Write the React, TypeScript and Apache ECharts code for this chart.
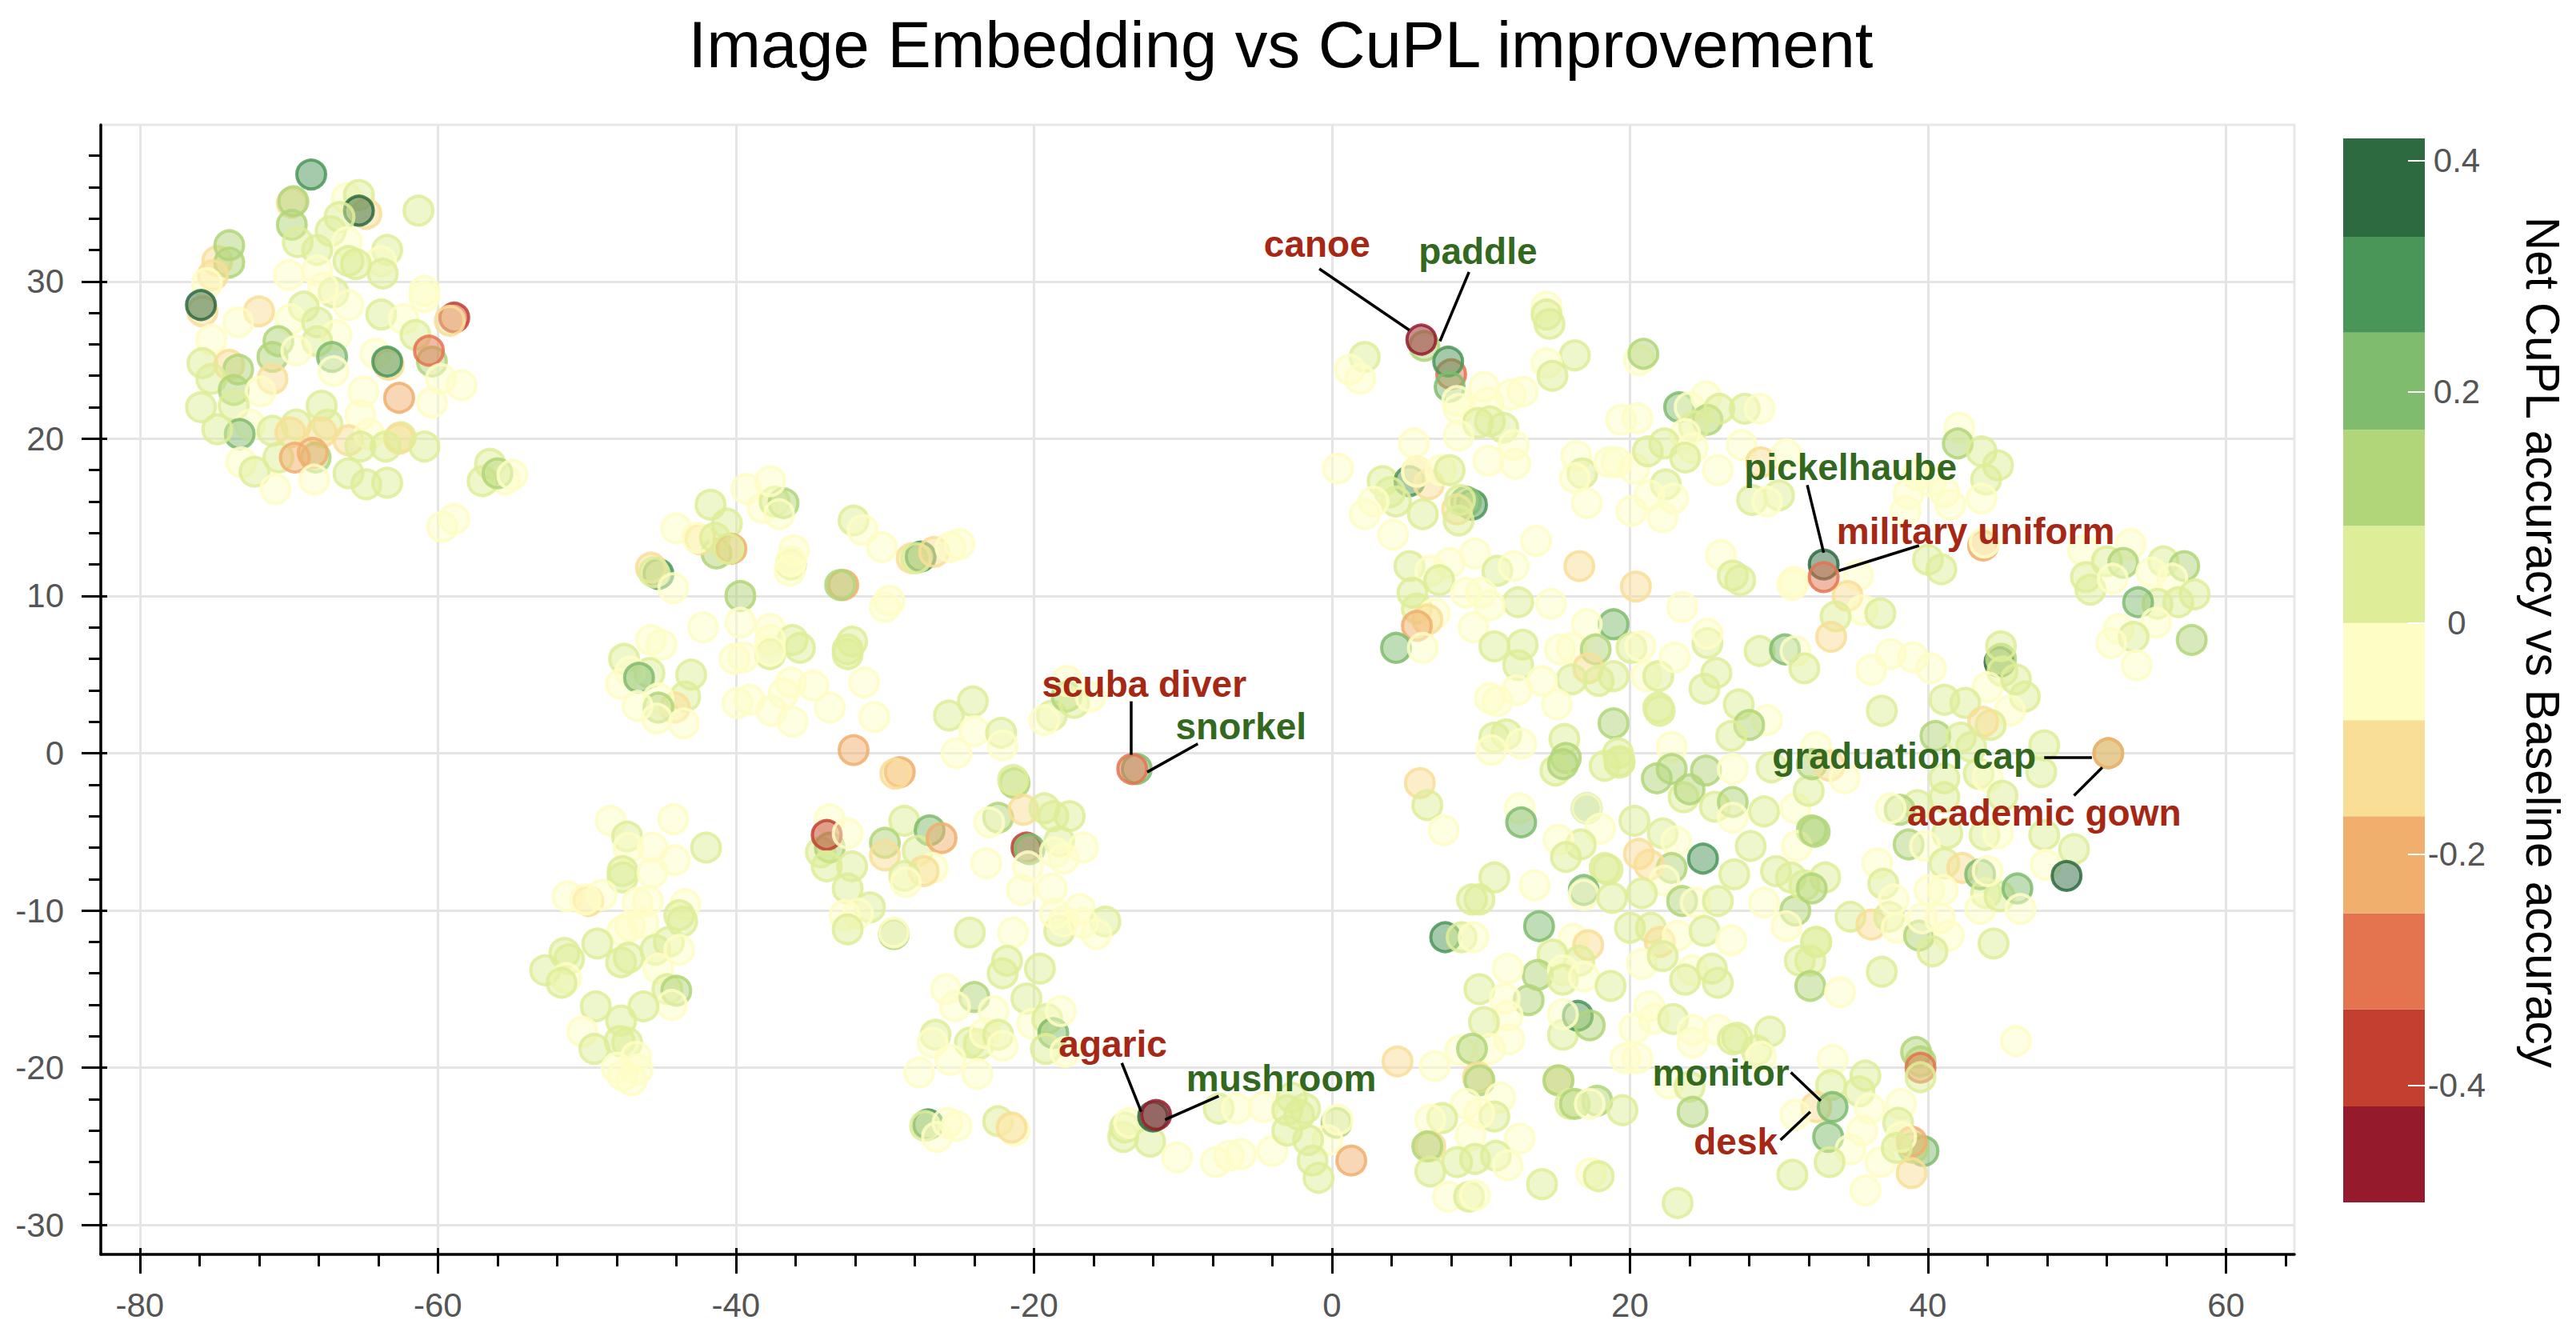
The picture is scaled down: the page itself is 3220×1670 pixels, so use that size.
import { useEffect, useRef } from "react";
import * as echarts from "echarts";

// net accuracy levels, one per colour band of the bar
const K = 0.38, D = 0.29, G = 0.21, M = 0.12, L = 0.04;
const Y = -0.04, A = -0.12, B = -0.2, C = -0.29, R = -0.38, Z = -0.46;

const xMajorTicks = [-80, -60, -40, -20, 0, 20, 40, 60];
const xMinorTicks = [-76, -72, -68, -64, -56, -52, -48, -44, -36, -32, -28, -24, -16, -12, -8, -4, 4, 8, 12, 16, 24, 28, 32, 36, 44, 48, 52, 56, 64];
const yMajorTicks = [-30, -20, -10, 0, 10, 20, 30];
const yMinorTicks = [-28, -26, -24, -22, -18, -16, -14, -12, -8, -6, -4, -2, 2, 4, 6, 8, 12, 14, 16, 18, 22, 24, 26, 28, 32, 34, 36, 38];
const barTicks = [-0.4, -0.2, 0, 0.2, 0.4];
const bandEdges = [-0.501, -0.418, -0.334, -0.251, -0.167, -0.084, 0, 0.084, 0.167, 0.251, 0.334, 0.419];
const bandColors = ["#951b2c", "#c33f30", "#e4744f", "#f1af6d", "#f9de96", "#fefdc5", "#deed98", "#b1d679", "#7fbc6e", "#4a9658", "#2d6a3f"];

const topLeftCluster = [
  [-69.8, 35, A], [-69.7, 35.1, M], [-69.8, 33.6, M], [-66.1, 35.3, Y], [-65.3, 35.5, L], [-64.8, 34.3, A], [-65.3, 34.5, K], [-61.3, 34.5, L],
  [-66.6, 34.1, L], [-67.2, 33.2, L], [-66.1, 32.5, Y], [-69.4, 32.5, L], [-68.1, 32, L], [-74.8, 31.3, A], [-74, 32.3, M], [-74, 31.2, M],
  [-75.1, 30.4, A], [-75.5, 29.9, Y], [-63.4, 32, L], [-66, 31.3, L], [-63.8, 31.3, Y], [-63.7, 30.5, L], [-70, 30.4, Y], [-68.1, 30.7, Y],
  [-65.5, 31.1, L], [-60.9, 29.4, Y], [-60.9, 29, Y], [-67, 29.3, L], [-66, 28.5, Y], [-67.7, 29.6, Y], [-75.8, 28.1, A], [-75.9, 28.5, K],
  [-72, 28.1, A], [-73.4, 27.4, Y], [-69, 28.4, L], [-69.9, 27.6, Y], [-68.1, 27.4, L], [-63.8, 27.9, L], [-62.3, 27.6, Y], [-58.9, 27.7, R],
  [-59.2, 27.5, A], [-66.8, 26.6, Y], [-61.5, 26.6, L], [-70.7, 26.2, M], [-75.2, 26.3, Y], [-60.4, 24.9, M], [-60.6, 25.6, C], [-68.1, 26.2, L],
  [-67.1, 25.2, G], [-64.2, 25.4, Y], [-63.3, 24.7, A], [-63.4, 24.9, D], [-71.1, 25.2, M], [-69.5, 25.6, Y], [-75.8, 24.8, L], [-74, 24.7, A],
  [-73.4, 24.4, M], [-75.2, 23.8, L], [-71.1, 23.8, A], [-73.7, 23.1, M], [-71.9, 23, Y], [-67, 24.3, Y], [-59.8, 23.8, Y], [-58.4, 23.4, Y],
  [-62.6, 22.6, B], [-65, 23, Y], [-67.8, 22.1, L], [-60.4, 22.3, Y], [-75.9, 22, L], [-73.7, 22.1, L], [-65.2, 21.5, Y], [-72.6, 20.9, Y],
  [-73.3, 20.3, G], [-74.8, 20.6, L], [-71.1, 20.5, L], [-69.5, 20.9, L], [-69.9, 20.4, A], [-67.4, 20.9, L], [-67.8, 20.4, A], [-66, 19.9, A],
  [-64.6, 20.3, Y], [-62.5, 20.1, L], [-62.6, 20, A], [-60.9, 19.5, L], [-63.5, 19.5, L], [-65.2, 19.5, L], [-70.7, 18.8, L], [-68.2, 18.8, M],
  [-69.6, 18.8, B], [-68.4, 19.1, B], [-73.2, 18.5, Y], [-72.3, 17.9, L], [-70.9, 16.8, Y], [-68.3, 17.4, Y], [-66, 17.8, L], [-64.8, 17.1, L],
  [-63.4, 17.2, L], [-56.5, 18.4, L], [-55.5, 17.4, Y], [-57, 17.3, L], [-56, 17.8, M], [-55, 17.7, Y], [-59.7, 14.4, Y], [-58.9, 14.9, Y],
];

const middleLeftCluster = [
  [-39.3, 16.8, Y], [-38.2, 15.6, Y], [-37.4, 16, L], [-36.8, 15.9, M], [-37.7, 17.3, Y], [-37.1, 15.2, Y], [-41.7, 15.8, L], [-40.6, 14.6, L],
  [-44, 14.3, Y], [-41.3, 12.7, M], [-42.4, 13.6, A], [-42.6, 13.7, Y], [-41.4, 13.7, L], [-40.3, 13, B], [-40.5, 13, L], [-36.3, 12, L],
  [-36.1, 12.9, Y], [-36.3, 12.2, Y], [-36.4, 11.6, Y], [-45.2, 11.4, D], [-45.7, 11.8, A], [-45.5, 11.5, L], [-44.2, 10.5, Y], [-39.7, 10, M],
  [-32.1, 14.8, L], [-31.5, 14.2, Y], [-30.2, 13.1, Y], [-28.2, 12.4, A], [-27.6, 12.5, D], [-27.9, 12.4, L], [-26.7, 12.8, A], [-25.6, 13.1, Y],
  [-25, 13.3, Y], [-32.8, 10.7, B], [-33, 10.7, M], [-29.7, 9.7, Y], [-30, 9.3, Y], [-42.2, 8, Y], [-39.7, 8.3, Y], [-37.7, 7.9, Y], [-36.2, 7.2, L],
  [-35.7, 6.7, L], [-37.7, 7.2, Y], [-37.7, 6.3, L], [-37.7, 6.5, Y], [-32.2, 7.1, L], [-32.5, 6.6, L], [-32.5, 6.3, L], [-45.7, 7.2, Y], [-45, 6.9, Y],
  [-47.5, 6, L], [-47.7, 4.4, Y], [-45.8, 5.1, L], [-47.1, 5.2, Y], [-46.5, 4.8, G], [-43, 5, L], [-43.4, 3.6, L], [-44.1, 2.9, A], [-45.2, 3.5, Y],
  [-45.2, 2.9, M], [-46.6, 3, Y], [-45.3, 2.2, Y], [-43.5, 1.9, Y], [-40.1, 6, Y], [-39.5, 6.1, Y], [-36.3, 4.5, Y], [-34.8, 4.3, Y], [-31.4, 4.5, Y],
  [-39.9, 3.2, Y], [-39.1, 3.4, Y], [-37.6, 2.7, Y], [-36.2, 2, Y], [-33.7, 2.9, Y], [-30.7, 2.3, Y], [-36.8, 3.8, Y], [-32.1, 0.2, B],
  [-29, -1.2, B], [-29.3, -1.3, A], [-25.7, 2.4, L], [-24.1, 3.3, L], [-24, 1.4, Y], [-22.2, 1.3, L], [-22.1, 0.5, Y], [-25.2, 0, Y],
];

const lowerLeftCluster = [
  [-48.4, -4.3, Y], [-44.2, -4.2, Y], [-47.3, -5.3, L], [-47.2, -6, Y], [-45.6, -6, Y], [-42, -6, L], [-44.1, -6.8, Y], [-47.6, -7.5, L], [-47.6, -7.9, L],
  [-45.6, -7.6, Y], [-51.3, -9.1, Y], [-49.9, -9.4, A], [-50.1, -9.3, Y], [-49, -9, Y], [-46.6, -9.5, Y], [-45.9, -9.4, Y], [-43.4, -9.6, Y],
  [-43.8, -10.3, L], [-43.6, -10.7, L], [-47.1, -11, Y], [-47.6, -11.3, Y], [-46.2, -10.8, Y], [-51.5, -12.7, L], [-51.2, -13.1, L], [-49.3, -12.1, L],
  [-52.8, -13.8, L], [-51.4, -14.3, Y], [-51.7, -14.6, L], [-47.7, -13.3, L], [-47.2, -13, L], [-44.5, -12, L], [-45.4, -12.5, L], [-43.8, -12.5, Y],
  [-45.2, -13.7, Y], [-44.6, -15, L], [-44, -15.1, M], [-44.3, -16, Y], [-49.4, -16.1, L], [-46.2, -16.1, L], [-47.7, -17, L], [-50.3, -17.7, Y],
  [-49.5, -18.8, L], [-47.8, -18.3, L], [-47.3, -18.4, L], [-46.7, -19.3, Y], [-48, -20, Y], [-46.6, -20.1, Y], [-47, -20.8, Y], [-47.6, -20.5, Y],
];

const centerCluster = [
  [-33.7, -4.2, Y], [-34.3, -6.3, L], [-33.7, -6, M], [-33.9, -5.2, R], [-32.5, -5.1, Y], [-33.9, -7.2, L], [-32.2, -7.2, L], [-32.5, -8.6, L], [-31, -9.8, L],
  [-32.7, -10.3, Y], [-31.8, -10.2, Y], [-32.5, -11.2, L], [-29.4, -11.5, M], [-29.4, -11.4, Y], [-28.7, -4.3, L], [-27, -4.9, G], [-30, -5.7, M], [-30, -6.5, A],
  [-27.8, -6.2, L], [-26.2, -5.4, B], [-26.8, -7.3, Y], [-27.4, -7.5, A], [-28.7, -7.8, L], [-28.6, -8.2, Y], [-23.2, -7, Y], [-24.3, -11.4, L],
  [-22.4, -4.1, M], [-23, -4.4, Y], [-18.8, 2.4, L], [-19.3, 2.1, Y], [-17.8, 3.6, M], [-17.3, 3.2, L], [-16.2, 3.6, Y], [-17.8, 4.6, Y],
  [-21.3, -1.9, M], [-21.4, -1.7, L], [-20.7, -3.6, A], [-19.3, -3.5, L], [-17.6, -4, L], [-18.7, -4, L], [-20.5, -6, R], [-20.3, -6.1, G],
  [-18.3, -5.6, L], [-16.7, -6, Y], [-18.6, -6.3, Y], [-18, -6.7, Y], [-20.4, -7.2, Y], [-20.8, -8.7, Y], [-18.8, -8.6, Y], [-18.3, -11.3, L],
  [-18.6, -10.2, Y], [-16.9, -9.9, Y], [-18, -10.7, Y], [-15.2, -10.7, L], [-16.7, -10.8, Y], [-15.8, -11.5, Y], [-21.4, -11.4, Y],
];

const lowerCenterCluster = [
  [-21.8, -13.2, L], [-22.1, -14, L], [-19.6, -13.7, L], [-25.9, -15, Y], [-24, -15.5, M], [-20.5, -15.6, L], [-25.3, -16.1, Y], [-22.7, -16.4, Y],
  [-20.1, -17.2, Y], [-19.1, -16.9, L], [-18.7, -17.8, G], [-18.2, -16.4, Y], [-19.2, -18.8, L], [-17.9, -19, Y], [-26.6, -17.9, L], [-26.8, -18.4, Y],
  [-24.3, -18.4, L], [-23.7, -18.5, L], [-23.3, -17.8, Y], [-22.4, -17.9, L], [-22.1, -18.6, Y], [-25.6, -19.5, Y], [-23.8, -20.4, Y], [-27.7, -20.3, Y],
  [-27.1, -23.6, D], [-27.3, -23.7, L], [-26.5, -24.4, Y], [-25.8, -23.5, Y], [-25.2, -23.7, Y], [-22.4, -23.4, L], [-21.3, -24, Y], [-21.5, -23.8, A],
  [-13.9, -23.8, L], [-14, -24.4, L], [-13.6, -23.5, Y], [-12.2, -24.7, L], [-10.4, -25.7, Y], [-7.8, -26, Y], [-6.9, -25.6, Y], [-6.1, -25.5, Y],
  [-4, -25.3, Y], [-7.6, -22.6, L], [-6.4, -22.6, Y], [-4.6, -22.5, Y], [-2.7, -21.9, L], [-1.8, -22.6, L], [-3, -22.7, L], [-2.2, -23, L], [-3, -24, L],
  [0.3, -23.5, M], [0.4, -23.3, Y], [-0.3, -24.6, Y], [-1.6, -24.6, L], [-1.3, -25.9, L], [-0.9, -27, L], [1.3, -25.9, B], [4.4, -19.6, A],
];

const upperRightCluster = [
  [6.2, 25.9, M], [8, 24.1, C], [7.8, 24.9, D], [7.9, 23.3, G], [2.2, 25.2, L], [1.2, 24.4, Y], [1.9, 23.8, Y], [14.4, 28.4, Y], [14.4, 27.9, L], [14.6, 27.3, L],
  [16.3, 25.3, L], [14.4, 24.8, Y], [14.8, 24, L], [20.6, 25, Y], [20.9, 25.4, M], [10.2, 23.3, Y], [8.4, 22.4, Y], [8.5, 21.9, Y], [10.5, 22.3, Y], [12, 22.8, Y],
  [12.8, 23, Y], [9.8, 21, L], [10.6, 21.1, L], [11.5, 20.7, L], [8.5, 20.2, Y], [5.5, 19.7, Y], [12.2, 19.6, Y], [10.5, 18.6, Y], [12.3, 18.4, Y], [0.4, 18.1, Y],
  [16.4, 18.9, Y], [16.8, 17.8, L], [16.3, 17.5, Y], [18.6, 18.5, Y], [19.1, 18.5, Y], [20.3, 18.1, Y], [19.4, 21.2, Y], [20.5, 21.3, Y], [23.3, 22, G],
  [25.1, 22.7, Y], [24, 22, Y], [25.2, 21.2, M], [26, 21.9, L], [24.3, 20.8, L], [23.7, 20.3, Y], [27.7, 21.9, L], [28.7, 21.9, Y], [27.5, 19.6, Y], [22.3, 19.7, L],
  [21.2, 19.2, L], [24.2, 19.4, Y], [23.7, 18.8, L], [25.9, 18, Y], [28.8, 18.5, A], [30.5, 19, Y], [22.4, 17.1, L], [21.3, 16.4, Y], [22.9, 16.2, Y],
  [20.1, 15.4, Y], [22.2, 15, Y], [17.1, 15.9, Y], [3.4, 17.3, L], [5.2, 17.3, D], [6.5, 17.1, A], [5.7, 17.9, A], [5.7, 17.9, Y], [3.9, 16.6, L], [4.3, 16, L], [6.1, 15.2, L],
  [2.2, 15.2, Y], [2.8, 16, Y], [4.1, 13.9, Y], [7.3, 18, Y], [7.9, 18, L], [9.4, 15.8, D], [9, 16, G], [8.4, 15.5, A], [8.6, 16.1, L], [8.5, 14.8, L], [30, 16.4, L],
  [28.2, 16.1, L], [29.2, 16, Y], [13.7, 13.5, Y], [5.2, 11.9, L], [7.9, 12.1, Y], [9.6, 12.7, Y], [6.6, 11.6, Y], [7.2, 11, L], [5.4, 10.2, L], [11.1, 11.6, L],
  [12.2, 11.9, Y], [16.6, 11.9, A], [20.4, 10.6, A], [9, 10.2, Y], [10, 10.2, Y], [12.5, 9.6, L], [14.7, 9.5, Y], [10.6, 9.4, Y], [9.5, 8, Y], [5.7, 9.2, L],
  [6.9, 8.9, Y], [6.4, 8.5, A], [5.7, 8.1, B], [4.3, 6.7, G], [6.1, 6.7, Y], [18.9, 8.2, G], [17.1, 8.2, Y], [23.5, 9.3, Y], [26.1, 12.6, Y], [26.9, 11.3, L],
  [27.4, 11, L], [30.9, 10.7, Y], [10.9, 6.8, L], [12.8, 6.9, L], [12.5, 5.6, L], [15.3, 6.6, Y], [16.1, 6.7, Y], [17.7, 6.6, M], [20.1, 6.7, L], [20.7, 6.8, Y],
  [17.2, 5.4, A], [18.9, 4.9, L], [17.9, 4.6, L], [16.1, 4.7, L], [14.1, 4.6, Y], [12.4, 4, Y], [10.6, 3.5, Y], [11.1, 3.3, Y], [15.1, 3.1, Y], [21.1, 4.9, Y],
  [21.9, 4.9, L], [23, 6.1, Y], [25.2, 7, L], [25.2, 7.6, Y], [25.8, 5.1, L], [25, 4.1, L], [28.7, 6.5, L], [30.4, 6.6, G], [31.1, 6.5, Y], [31.7, 5.4, L], [21.9, 2.9, L],
  [22, 2.7, L], [18.9, 1.9, M], [27.3, 3.1, L], [29.2, 2.1, Y], [28, 1.8, M], [26.8, 1.1, L], [10.9, 1, L], [11.7, 1.2, L], [12.7, 0.6, Y], [10.7, 0.2, Y],
  [15.6, 0.9, L], [15.7, -0.3, M], [19.2, 0, L], [19.3, -0.5, L], [22.8, 0.4, Y],
];

const lowerRightCluster = [
  [15, -1.1, L], [15.5, -0.7, M], [18.3, -0.8, L], [19.3, -0.6, L], [21.8, -1.6, M], [22.8, -1, M], [25.1, -1.1, M], [26.9, -1, Y], [23.6, -2.8, L], [24, -2.3, M],
  [25.7, -3.4, L], [26.9, -3.1, M], [26.9, -4.1, Y], [29, -3.7, L], [31.1, -3.5, Y], [32, -2.4, L], [32.2, -4.9, M], [28.1, -5.9, L], [31.2, -5.9, Y],
  [5.9, -1.9, A], [6.4, -3.3, L], [7.5, -4.9, Y], [12.6, -3.5, Y], [12.7, -4.4, G], [17.1, -3.5, G], [17.1, -3.5, Y], [20.3, -4.3, L], [22.2, -5.1, L], [23.1, -5.6, Y],
  [24.9, -6.7, D], [18, -4.8, Y], [16.7, -5.8, L], [15.2, -5.5, Y], [15.7, -6.6, L], [18.3, -7.3, L], [18.5, -7.4, L], [22.8, -7.3, M], [20.6, -6.4, A],
  [21.3, -7.1, A], [22.3, -8.1, Y], [23.5, -9.4, M], [24.4, -9.5, Y], [25.9, -9.4, L], [27, -7.7, L], [29.8, -7.5, L], [30.8, -7.9, L], [29, -9.5, Y], [31.1, -10, M],
  [30.5, -11, Y], [10.9, -7.9, L], [13.6, -8.4, Y], [9.9, -9.3, L], [9.4, -9.3, L], [16.9, -8.7, G], [16.9, -9, Y], [18.8, -9.2, L], [20.8, -8.9, L], [13.9, -11, G],
  [16.2, -11.8, Y], [17.2, -12.2, A], [16.6, -13.2, L], [14.8, -12.8, L], [13.8, -14.1, M], [15.5, -13.8, Y], [15.5, -14.4, L], [16.9, -14.2, Y], [18.7, -14.8, L],
  [11.8, -13.7, Y], [9.9, -15, L], [13.2, -15.7, M], [11.6, -15.6, Y], [11.8, -16.7, Y], [11.9, -18.2, Y], [10.2, -17.1, L], [8.6, -18.9, Y], [10.6, -18.8, Y],
  [9.4, -18.8, M], [15.5, -17.9, L], [16.5, -16.7, D], [17.3, -17.3, M], [15.5, -16.6, Y], [7.6, -11.7, D], [8.7, -11.7, L], [9.5, -11.7, Y], [20, -11.1, L],
  [21.4, -11.1, L], [22, -12, A], [23.2, -11.6, Y], [25, -11.3, L], [26.8, -11.9, Y], [20.8, -13.4, Y], [22.2, -12.9, L], [24.2, -13.8, Y], [23.7, -14.4, L],
  [25.5, -13.7, L], [25.9, -14.6, L], [32.5, -12, L], [31.4, -13.2, L], [32.1, -13.2, L], [32.1, -14.8, M], [21.3, -16.1, Y], [21.6, -16.9, Y], [22.9, -16.9, L],
  [20.3, -17.5, Y], [24.2, -17.6, Y], [25.9, -17.6, Y], [24.2, -18.4, Y], [27.2, -18.1, L], [26.9, -18.2, L], [29.4, -17.7, L], [28.5, -18.9, L], [28.8, -19.3, Y],
  [19.7, -19.4, Y], [20.5, -19.4, Y], [6.9, -19.9, Y], [9.8, -20.6, A], [9.9, -20.8, M], [15.2, -20.8, A], [15.2, -20.8, M], [11.3, -21.9, Y], [9, -22.3, Y],
  [16, -22.3, L], [16.3, -22.3, M], [17.8, -22.1, M], [17.3, -22.3, Y], [19.5, -22.7, L], [7.4, -23.2, L], [6.6, -23.3, Y], [10.9, -23.1, L], [9.9, -22.9, Y], [9.3, -24.3, Y],
  [12.6, -24.5, Y], [6.6, -25, A], [6.4, -25, M], [8.4, -26, L], [6.6, -26.6, L], [9.6, -25.8, L], [11, -25.6, L], [11.8, -26.2, Y], [14.1, -27.4, L], [17.4, -26.7, Y],
  [17.9, -26.9, L], [7.8, -28.2, Y], [9.2, -28.2, L], [9.6, -28.1, Y], [23.2, -28.6, L], [30.9, -26.8, L], [22.6, -21, Y], [24, -21.2, L], [24.2, -22.8, M],
];

const farRightCluster = [
  [42.1, 20.7, Y], [42, 19.7, M], [43.6, 19.2, L], [44.7, 18.3, L], [43.9, 17.4, L], [43.6, 16.2, Y], [38.7, 16.5, Y], [40.2, 17.3, Y], [39.3, 17.7, Y], [41.1, 16.6, Y],
  [41.5, 15.8, Y], [38.5, 15.4, Y], [31, 10.9, Y], [35.3, 11.3, Y], [34.6, 10, A], [35.6, 9.1, Y], [33.8, 8.7, L], [36.8, 8.9, L], [33.5, 7.4, A], [40, 12.3, L], [40.9, 11.7, L],
  [43.7, 13.2, B], [43.8, 13.4, Y], [50.4, 12.9, Y], [53.6, 13.3, Y], [52, 12.2, L], [53.1, 12.1, M], [50.6, 11.2, L], [50.9, 10.4, L], [52.4, 11.1, Y], [55.8, 12.2, L],
  [57.2, 11.9, M], [56.4, 11.1, Y], [55, 11.5, Y], [57.9, 10.1, L], [55.4, 9.5, L], [54.1, 9.6, G], [56.8, 9.6, L], [55.3, 8.3, Y], [52.8, 7.9, Y], [53.8, 7.4, L], [52.3, 7, Y],
  [57.7, 7.2, M], [54, 5.6, Y], [44.8, 5.8, K], [44.9, 6, M], [44.9, 6.8, L], [45, 5.2, L], [36.2, 5.3, Y], [37.5, 6.3, Y], [39, 6.1, Y], [40.2, 5.4, Y], [44, 4.2, Y], [45.9, 4.7, L],
  [46.5, 3.6, L], [45.5, 2.7, Y], [36.9, 2.7, L], [41.1, 3.4, L], [42.5, 3.2, L], [44.2, 1.8, L], [43.7, 2, A], [40.5, 1.1, M], [42.2, 1, L], [42.9, 0.4, L], [47.8, 0.5, L],
  [32.5, 0.4, Y], [32.2, -0.7, M], [33.4, -0.8, A], [34.4, -1.6, Y], [29.5, -0.9, L], [43.4, -1.3, L], [41.1, -1.6, L], [47.6, -1.2, L], [44, -1.5, Y], [45, -2.7, L], [41.1, -2.8, L],
  [39.3, -3.3, L], [38.1, -3.6, M], [37.5, -3.5, Y], [47.8, -5.2, L], [49.8, -6.1, L], [47.9, -7.1, Y], [43.8, -5.2, L], [44.7, -5.1, Y], [41.3, -5.1, L], [38.7, -5.8, M],
  [39.8, -5.9, Y], [32.4, -5, M], [33.1, -7.9, L], [31.7, -8.4, L], [32.2, -8.6, M], [34.8, -10.4, L], [36.2, -10.9, A], [37.4, -10.4, L], [37.9, -11.1, Y], [39.4, -11.6, M],
  [39.6, -10.5, Y], [40.8, -10.5, Y], [41.4, -11.6, Y], [40.3, -12.6, L], [44.4, -12.1, L], [32.5, -12, L], [34.1, -15.2, Y], [36.9, -13.9, L], [36.6, -7, Y], [37, -8.3, L], [37.7, -9.3, Y],
  [41.1, -7, L], [42.3, -7.3, A], [40.1, -8.7, Y], [41, -8.7, Y], [43.5, -7.7, G], [43.9, -8.9, L], [43.5, -9.9, Y], [44.8, -9.1, L], [46, -8.6, G], [46.2, -9.9, Y], [44, -7.5, Y],
  [39.2, -19, M], [39.5, -19.6, M], [39.5, -20, C], [39.5, -20.6, L], [33.6, -19.5, Y], [35.8, -20.5, L], [33.5, -21.1, L], [32.5, -22.5, A], [31.1, -23, Y], [33.3, -24.4, G],
  [35.4, -21.5, L], [36.1, -22.6, Y], [38.2, -22.3, Y], [38, -23.5, L], [35.6, -24, Y], [34.8, -25.2, Y], [33.4, -26, L], [36.8, -26, Y], [35.8, -27.8, Y], [39.7, -25.3, G],
  [39, -25.1, M], [38.9, -24.7, B], [38.2, -24.4, Y], [37.9, -25.1, L], [38.9, -26.7, A], [45.9, -18.3, Y],
];

// the named classes and what sits under them, drawn last
const annotatedPoints = [
  [-68.5, 36.8, D], [-13.1, -1, G], [-13.4, -1, C], [6, 26.3, Z], [-12, -23.1, K], [-11.8, -23, Z], [33, 12, K], [33, 11.2, C],
  [52.1, 0, M], [52.1, 0, B], [33.6, -22.5, G], [49.3, -7.8, K],
];

const annotationTexts = ["canoe", "paddle", "scuba diver", "snorkel", "agaric", "mushroom", "pickelhaube", "military uniform", "graduation cap", "academic gown", "monitor", "desk"];
const annotationX = [-1, 9.8, -12.6, -6.1, -14.7, -3.4, 34.8, 43.2, 38.4, 47.8, 26.1, 27.1];
const annotationY = [32.4, 31.9, 4.4, 1.7, -18.5, -20.7, 18.2, 14.1, -0.2, -3.8, -20.3, -24.7];
const annotationLoss = [true, false, true, false, true, false, false, true, false, true, false, true];
const leaderStarts = [[-0.85, 30.8], [9.2, 30.6], [-13.5, 3.3], [-9, 0.6], [-14.1, -19.7], [-7.6, -21.8], [31.9, 17.05], [39.4, 13.2], [47.8, -0.25], [49.8, -2.7], [30.8, -20.3], [30.1, -24.6]];
const leaderEnds = [[5.2, 26.9], [7.25, 26.2], [-13.5, -0.1], [-12.4, -1.2], [-12.8, -22.8], [-11.2, -23.3], [33, 12.75], [34, 11.6], [51, -0.25], [51.7, -0.9], [32.8, -22.1], [32.1, -22.8]];

const FONT = "'Liberation Sans', Arial, sans-serif";

function bandColor(net: number) {
  for (let i = 0; i < bandColors.length; i++) {
    if (net < bandEdges[i + 1]) return bandColors[i];
  }
  return bandColors[bandColors.length - 1];
}

export default function App() {
  const chartRef = useRef<HTMLDivElement>(null);

  useEffect(() => {
    if (!chartRef.current) return;
    const chart = echarts.init(chartRef.current, undefined, { renderer: "svg" });

    const allPoints = [
      ...topLeftCluster, ...middleLeftCluster, ...lowerLeftCluster, ...centerCluster, ...lowerCenterCluster,
      ...upperRightCluster, ...lowerRightCluster, ...farRightCluster, ...annotatedPoints,
    ];

    const xRange = { min: -82.62, max: 64.59 };
    const yRange = { min: -31.87, max: 39.96 };
    const quietLine = { show: false, onZero: false };

    chart.setOption({
      animation: false,
      backgroundColor: "#ffffff",
      title: {
        text: "Image Embedding vs CuPL improvement",
        left: 1596,
        top: 10,
        textAlign: "center",
        textStyle: { fontFamily: FONT, fontSize: 81.4, fontWeight: "normal", color: "#000000" },
      },
      grid: [
        { left: 126, top: 156, width: 2742, height: 1412, show: true, borderColor: "#e8e8e8", borderWidth: 3, backgroundColor: "transparent" },
        { left: 2929, top: 173, width: 102, height: 1330 },
      ],
      xAxis: [
        {
          type: "value", gridIndex: 0, position: "bottom", ...xRange,
          axisLine: { show: true, onZero: false, lineStyle: { color: "#000000", width: 3.5 } },
          axisTick: { show: true, length: 24, customValues: xMajorTicks, lineStyle: { color: "#000000", width: 3 } },
          axisLabel: { show: true, customValues: xMajorTicks, margin: 42, fontFamily: FONT, fontSize: 42, color: "#555555" },
          splitLine: { show: true, lineStyle: { color: "#e5e5e5", width: 3 } },
        },
        {
          type: "value", gridIndex: 0, position: "bottom", ...xRange,
          axisLine: quietLine,
          axisTick: { show: true, inside: true, length: 8, customValues: xMajorTicks, lineStyle: { color: "#000000", width: 3 } },
          axisLabel: { show: false }, splitLine: { show: false },
        },
        {
          type: "value", gridIndex: 0, position: "bottom", ...xRange,
          axisLine: quietLine,
          axisTick: { show: true, length: 15, customValues: xMinorTicks, lineStyle: { color: "#000000", width: 3 } },
          axisLabel: { show: false }, splitLine: { show: false },
        },
        { type: "value", gridIndex: 1, min: 0, max: 1, show: false },
      ],
      yAxis: [
        {
          type: "value", gridIndex: 0, position: "left", ...yRange,
          axisLine: { show: true, onZero: false, lineStyle: { color: "#000000", width: 3.5 } },
          axisTick: { show: true, length: 24, customValues: yMajorTicks, lineStyle: { color: "#000000", width: 3 } },
          axisLabel: { show: true, customValues: yMajorTicks, margin: 46, fontFamily: FONT, fontSize: 42, color: "#555555" },
          splitLine: { show: true, lineStyle: { color: "#e5e5e5", width: 3 } },
        },
        {
          type: "value", gridIndex: 0, position: "left", ...yRange,
          axisLine: quietLine,
          axisTick: { show: true, inside: true, length: 8, customValues: yMajorTicks, lineStyle: { color: "#000000", width: 3 } },
          axisLabel: { show: false }, splitLine: { show: false },
        },
        {
          type: "value", gridIndex: 0, position: "left", ...yRange,
          axisLine: quietLine,
          axisTick: { show: true, length: 15, customValues: yMinorTicks, lineStyle: { color: "#000000", width: 3 } },
          axisLabel: { show: false }, splitLine: { show: false },
        },
        {
          type: "value", gridIndex: 1, position: "right", min: -0.501, max: 0.419,
          axisLine: quietLine,
          axisTick: { show: true, inside: true, length: 21, customValues: barTicks, lineStyle: { color: "#ffffff", width: 2 } },
          axisLabel: { show: true, customValues: barTicks, margin: 40, align: "center", fontFamily: FONT, fontSize: 42, color: "#555555", formatter: (v: number) => `${v}` },
          splitLine: { show: false },
          z: 5,
        },
      ],
      graphic: [
        {
          type: "text", x: 3178, y: 803, rotation: -Math.PI / 2,
          style: { text: "Net CuPL accuracy vs Baseline accuracy", fontFamily: FONT, fontSize: 58.3, fill: "#000000", textAlign: "center", textVerticalAlign: "middle" },
        },
      ],
      series: [
        {
          type: "scatter",
          xAxisIndex: 0,
          yAxisIndex: 0,
          symbolSize: 36,
          silent: true,
          z: 3,
          data: allPoints.map(([x, y, net]) => ({
            value: [x, y],
            itemStyle: {
              opacity: 1,
              color: echarts.color.modifyAlpha(bandColor(net), 0.5),
              borderColor: echarts.color.modifyAlpha(bandColor(net), 0.85),
              borderWidth: 4,
            },
          })),
        },
        {
          type: "lines",
          coordinateSystem: "cartesian2d",
          xAxisIndex: 0,
          yAxisIndex: 0,
          silent: true,
          z: 4,
          lineStyle: { color: "#000000", width: 3.5, opacity: 1, curveness: 0 },
          data: leaderStarts.map((start, i) => ({ coords: [start, leaderEnds[i]] })),
        },
        {
          type: "scatter",
          xAxisIndex: 0,
          yAxisIndex: 0,
          symbolSize: 1,
          silent: true,
          z: 6,
          itemStyle: { color: "transparent", opacity: 1 },
          label: { show: true, position: "inside", formatter: "{b}", fontFamily: FONT, fontSize: 46, fontWeight: "bold" },
          data: annotationTexts.map((name, i) => ({
            name,
            value: [annotationX[i], annotationY[i]],
            label: { color: annotationLoss[i] ? "#a52714" : "#33691e" },
          })),
        },
        {
          type: "custom",
          xAxisIndex: 3,
          yAxisIndex: 3,
          silent: true,
          z: 2,
          data: bandColors.map((_, i) => [bandEdges[i], bandEdges[i + 1], i]),
          renderItem: (_: unknown, api: any) => {
            const a = api.coord([0, api.value(1)]);
            const b = api.coord([1, api.value(0)]);
            return {
              type: "rect",
              shape: { x: a[0], y: a[1], width: b[0] - a[0], height: b[1] - a[1] },
              style: { fill: bandColors[api.value(2)] },
            };
          },
        },
      ],
    });

    return () => {
      chart.dispose();
    };
  }, []);

  return <div ref={chartRef} style={{ position: "fixed", left: 0, top: 0, width: 3220, height: 1670 }} />;
}
